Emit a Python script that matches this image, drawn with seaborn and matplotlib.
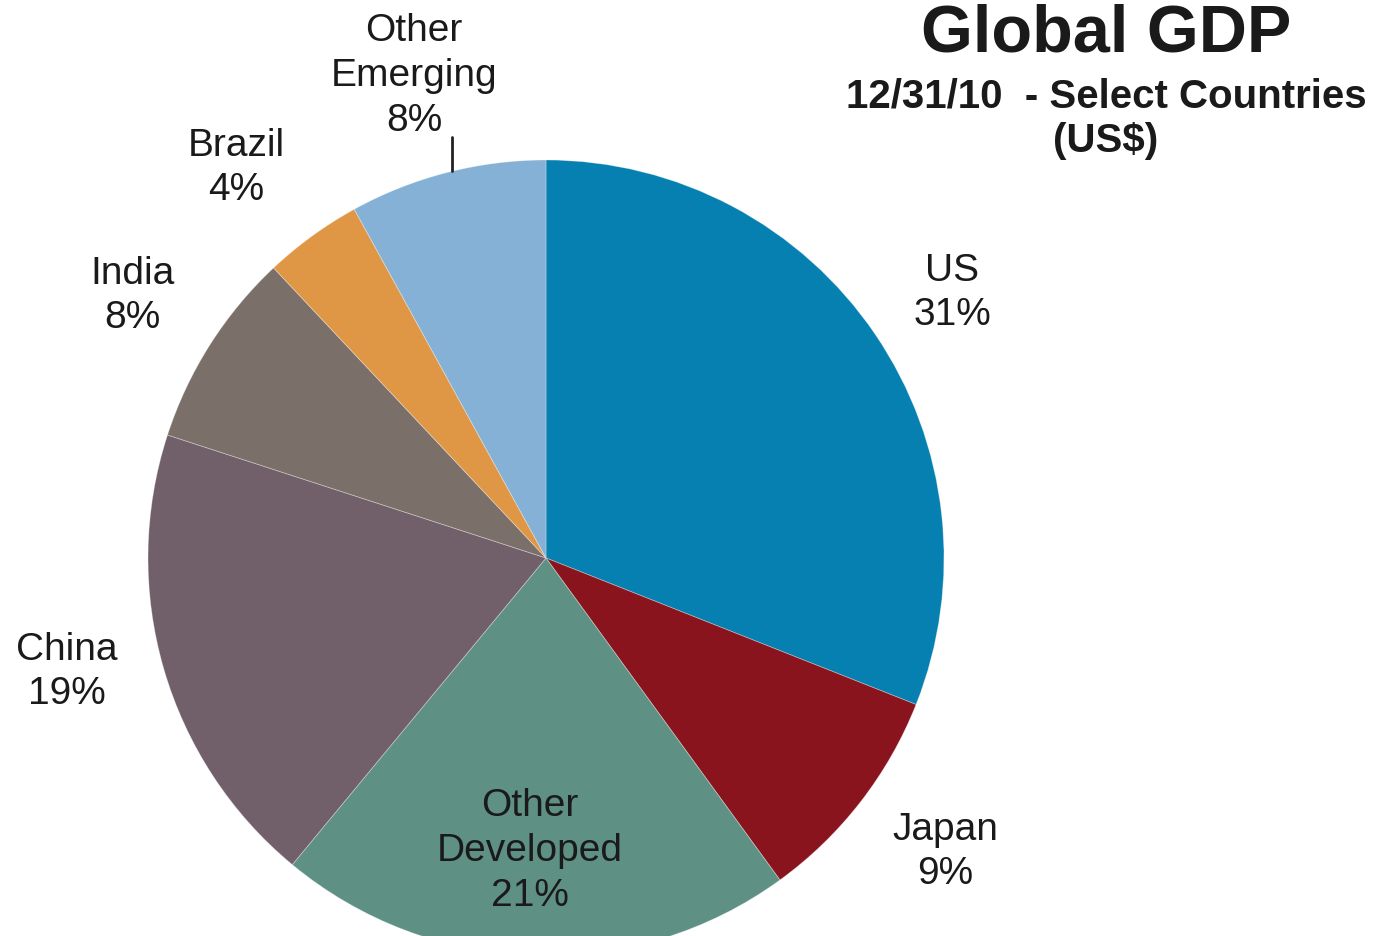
import matplotlib
matplotlib.use("Agg")
import matplotlib.pyplot as plt
import seaborn as sns

# ---- data ----
categories = ["US", "Japan", "Other\nDeveloped", "China", "India", "Brazil", "Other\nEmerging"]
shares = [31, 9, 21, 19, 8, 4, 8]
colors = ["#0680B0", "#8A141D", "#5F9084", "#71606A", "#7A7069", "#DF9746", "#84B1D5"]

title = "Global GDP"
subtitle = "12/31/10  - Select Countries\n(US$)"

# ---- layout (pixel positions, y measured from top) ----
W, H = 1385, 936
label_pos = [(952, 293), (945, 852), (530, 851), (67, 672), (132, 296), (236, 168), (414, 76)]

sns.set_theme(style="white")
plt.rcParams['font.family'] = ['Liberation Sans', 'DejaVu Sans']

fig = plt.figure(figsize=(W / 100, H / 100), dpi=100)
ax = fig.add_axes([0, 0, 1, 1])

def py(y):
    return H - y

palette = sns.color_palette(colors)
ax.pie(shares, colors=palette, startangle=90, counterclock=False,
       center=(546, py(558)), radius=398, frame=True,
       wedgeprops=dict(linewidth=0.6, edgecolor=(1, 1, 1, 0.35)))
ax.set_xlim(0, W)
ax.set_ylim(0, H)
ax.set_aspect('equal')
ax.axis('off')

for cat, val, (x, y) in zip(categories, shares, label_pos):
    ax.text(x, py(y), f"{cat}\n{val}%", ha='center', va='center',
            fontsize=28, color='#1a1a1a', linespacing=1.32)

# leader line for Other Emerging
ax.plot([452, 452], [py(137), py(171)], color='#222222', lw=2)

ax.text(1106, py(34), title, ha='center', va='center', fontsize=48,
        fontweight='bold', color='#1a1a1a')
ax.text(1106, py(119), subtitle, ha='center', va='center', fontsize=29,
        fontweight='bold', color='#1a1a1a', linespacing=1.2)

fig.savefig("out.png", dpi=100)
